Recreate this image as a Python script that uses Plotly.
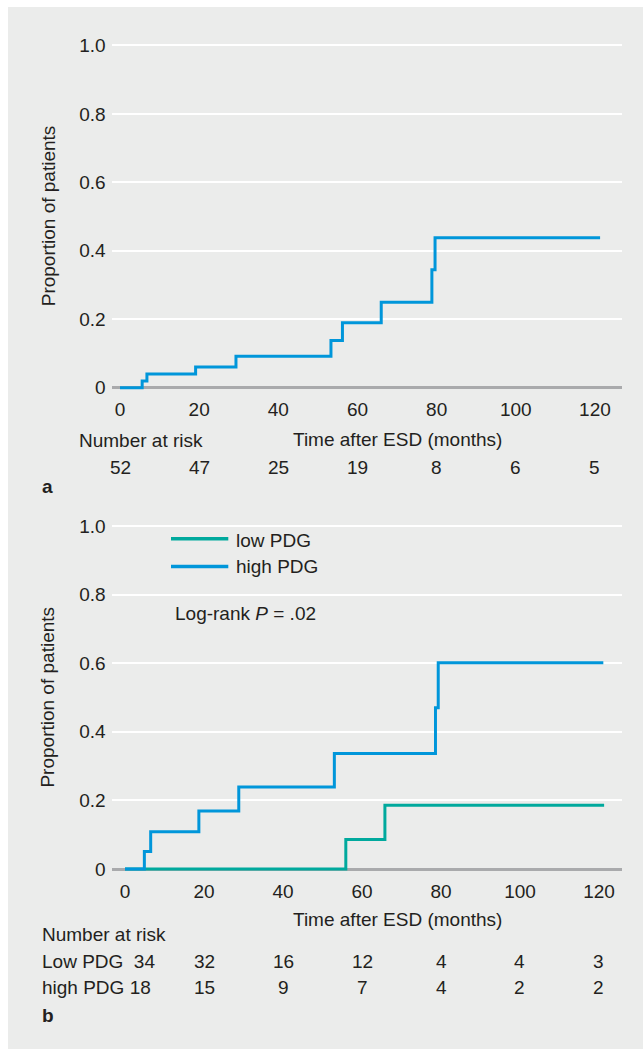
import plotly.graph_objects as go

W, H = 643, 1051

# ---------------- data ----------------
# Panel a: overall cumulative proportion
a_time = [0, 5.6, 6.8, 19.1, 29.3, 53.3, 56.2, 66.0, 78.8, 79.6, 121.3]
a_prop = [0, 0.020, 0.040, 0.061, 0.092, 0.138, 0.190, 0.250, 0.345, 0.438, 0.438]

# Panel b: low PDG vs high PDG
low_time = [0, 55.9, 65.8, 121.3]
low_prop = [0, 0.086, 0.186, 0.186]
high_time = [0, 4.9, 6.5, 18.7, 28.8, 53.0, 78.6, 79.3, 121.1]
high_prop = [0, 0.051, 0.109, 0.169, 0.239, 0.337, 0.470, 0.601, 0.601]

x_ticks = [0, 20, 40, 60, 80, 100, 120]
y_ticks = [0, 0.2, 0.4, 0.6, 0.8, 1.0]
y_tick_labels = ["0", "0.2", "0.4", "0.6", "0.8", "1.0"]

risk_times = [0, 20, 40, 60, 80, 100, 120]
risk_all = [52, 47, 25, 19, 8, 6, 5]
risk_low = [34, 32, 16, 12, 4, 4, 3]
risk_high = [18, 15, 9, 7, 4, 2, 2]

# ---------------- style ----------------
BLUE = "#0096DA"
GREEN = "#00A99D"
BG = "#EBECEB"
TXT = "#231F20"
FONT = "Liberation Sans, Arial, sans-serif"
FS = 19


def fx(px):
    return px / W


def fy(py):
    return 1 - py / H


fig = go.Figure()

fig.add_trace(go.Scatter(x=a_time, y=a_prop, mode="lines", line=dict(color=BLUE, width=3, shape="hv"),
                         xaxis="x", yaxis="y", showlegend=False, hoverinfo="skip"))
fig.add_trace(go.Scatter(x=low_time, y=low_prop, mode="lines", line=dict(color=GREEN, width=3, shape="hv"),
                         xaxis="x2", yaxis="y2", name="low PDG", showlegend=False))
fig.add_trace(go.Scatter(x=high_time, y=high_prop, mode="lines", line=dict(color=BLUE, width=3, shape="hv"),
                         xaxis="x2", yaxis="y2", name="high PDG", showlegend=False))

xdom = [fx(111.7), fx(621.7)]
common_x = dict(showgrid=False, zeroline=False, showline=False, ticks="",
                tickvals=x_ticks, tickfont=dict(family=FONT, size=FS, color=TXT))
common_y = dict(showgrid=True, gridcolor="white", gridwidth=2, zeroline=True,
                zerolinecolor="#A9AAAC", zerolinewidth=2.5, showline=False, ticks="",
                tickvals=y_ticks, ticktext=y_tick_labels, ticklabelstandoff=5,
                tickfont=dict(family=FONT, size=FS, color=TXT), range=[-0.025, 1.05])

fig.update_layout(
    width=W, height=H, margin=dict(l=0, r=0, t=0, b=0),
    paper_bgcolor="white", plot_bgcolor="rgba(0,0,0,0)",
    font=dict(family=FONT, size=FS, color=TXT),
    xaxis=dict(domain=xdom, anchor="y", range=[-2.1, 126.76], **common_x),
    yaxis=dict(domain=[fy(397.1), fy(28.35)], anchor="x", **common_y),
    xaxis2=dict(domain=xdom, anchor="y2", range=[-3.37, 125.75], **common_x),
    yaxis2=dict(domain=[fy(879.3), fy(509.8)], anchor="x2", **common_y),
    showlegend=False,
)

shapes = [dict(type="rect", xref="paper", yref="paper", x0=fx(8), x1=1, y0=0, y1=fy(7),
               fillcolor=BG, line=dict(width=0), layer="below")]
# legend sample lines
shapes.append(dict(type="line", xref="paper", yref="paper", x0=fx(171), x1=fx(228.3),
                   y0=fy(539.7), y1=fy(539.7), line=dict(color=GREEN, width=3.5)))
shapes.append(dict(type="line", xref="paper", yref="paper", x0=fx(171), x1=fx(228.3),
                   y0=fy(567.7), y1=fy(567.7), line=dict(color=BLUE, width=3.5)))
fig.update_layout(shapes=shapes)

ann = []


def txt(text, x, y, xanchor="left", xref="paper", bold=False, angle=0, yref="paper"):
    ann.append(dict(text=("<b>%s</b>" % text) if bold else text, x=x, y=y, xref=xref, yref=yref,
                    xanchor=xanchor, yanchor="middle", showarrow=False, textangle=angle,
                    font=dict(family=FONT, size=FS, color=TXT)))


# y-axis titles
txt("Proportion of patients", fx(48), fy(216.7), xanchor="center", angle=-90)
txt("Proportion of patients", fx(48), fy(698.9), xanchor="center", angle=-90)

# panel a text
txt("Number at risk", fx(76.6), fy(441))
txt("Time after ESD (months)", fx(397), fy(440), xanchor="center")
for t, n in zip(risk_times, risk_all):
    txt(str(n), t, fy(468), xanchor="center", xref="x")
txt("a", fx(40), fy(487), bold=True)

# panel b legend
txt("low PDG", fx(234), fy(542))
txt("high PDG", fx(234), fy(568))
txt("Log-rank <i>P</i> = .02", fx(172.5), fy(615))

# panel b text
txt("Time after ESD (months)", fx(397), fy(921), xanchor="center")
txt("Number at risk", fx(39.8), fy(936))
txt("Low PDG  %d" % risk_low[0], fx(39.8), fy(963))
txt("high PDG %d" % risk_high[0], fx(39.8), fy(989))
for t, n in zip(risk_times[1:], risk_low[1:]):
    txt(str(n), t, fy(963), xanchor="center", xref="x2")
for t, n in zip(risk_times[1:], risk_high[1:]):
    txt(str(n), t, fy(989), xanchor="center", xref="x2")
txt("b", fx(40), fy(1017), bold=True)

fig.update_layout(annotations=ann)

fig.write_html(
    "out.html",
    config={"displayModeBar": False},
    post_script=("document.body.style.margin='0';document.body.style.overflow='hidden';"
                 "document.body.style.background='linear-gradient(to right, white 8px, %s 8px)';" % BG),
)
